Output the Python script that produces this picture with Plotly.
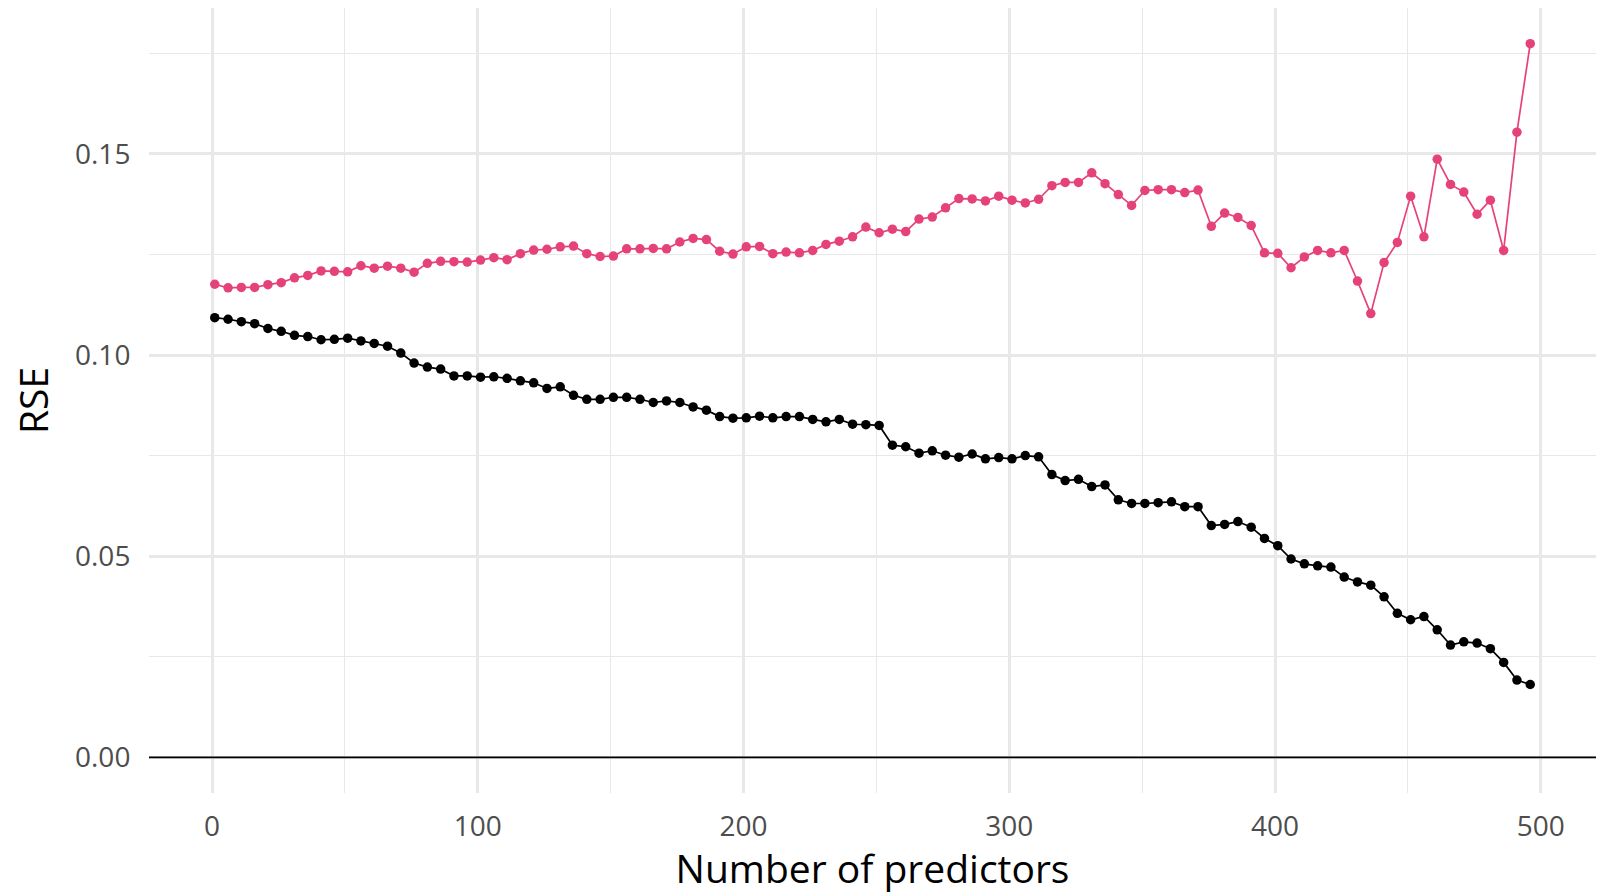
import plotly.graph_objects as go

# Number of predictors used in each fitted model
predictors = [1 + 5 * i for i in range(100)]

# Residual standard error on held-out data
rse_test = [
    0.1176, 0.1167, 0.1168, 0.1168, 0.1175, 0.1180, 0.1192, 0.1198, 0.1209, 0.1208,
    0.1207, 0.1222, 0.1216, 0.1221, 0.1216, 0.1206, 0.1228, 0.1233, 0.1232, 0.1231,
    0.1236, 0.1242, 0.1237, 0.1252, 0.1261, 0.1263, 0.1269, 0.1271, 0.1252, 0.1245,
    0.1246, 0.1264, 0.1264, 0.1265, 0.1264, 0.1281, 0.1290, 0.1287, 0.1258, 0.1251,
    0.1269, 0.1270, 0.1252, 0.1256, 0.1254, 0.1260, 0.1275, 0.1283, 0.1294, 0.1318,
    0.1304, 0.1313, 0.1307, 0.1338, 0.1343, 0.1366, 0.1389, 0.1388, 0.1383, 0.1395,
    0.1385, 0.1378, 0.1387, 0.1421, 0.1429, 0.1429, 0.1453, 0.1426, 0.1399, 0.1372,
    0.1409, 0.1411, 0.1411, 0.1404, 0.1410, 0.1320, 0.1353, 0.1342, 0.1322, 0.1254,
    0.1253, 0.1217, 0.1244, 0.1260, 0.1254, 0.1260, 0.1184, 0.1103, 0.1230, 0.1280,
    0.1395, 0.1294, 0.1487, 0.1424, 0.1405, 0.1350, 0.1385, 0.1260, 0.1554, 0.1774,
]

# Residual standard error on the training data
rse_train = [
    0.1093, 0.1089, 0.1083, 0.1078, 0.1066, 0.1059, 0.1049, 0.1046, 0.1038, 0.1039,
    0.1042, 0.1035, 0.1029, 0.1022, 0.1005, 0.0980, 0.0970, 0.0965, 0.0948, 0.0948,
    0.0945, 0.0946, 0.0942, 0.0936, 0.0931, 0.0917, 0.0921, 0.0900, 0.0890, 0.0890,
    0.0895, 0.0895, 0.0890, 0.0882, 0.0886, 0.0882, 0.0871, 0.0863, 0.0847, 0.0843,
    0.0844, 0.0848, 0.0844, 0.0847, 0.0847, 0.0840, 0.0834, 0.0840, 0.0828, 0.0827,
    0.0825, 0.0776, 0.0772, 0.0756, 0.0762, 0.0751, 0.0746, 0.0754, 0.0742, 0.0745,
    0.0742, 0.0750, 0.0747, 0.0703, 0.0688, 0.0691, 0.0673, 0.0677, 0.0640, 0.0631,
    0.0631, 0.0633, 0.0635, 0.0623, 0.0623, 0.0576, 0.0579, 0.0586, 0.0572, 0.0544,
    0.0526, 0.0493, 0.0481, 0.0476, 0.0473, 0.0448, 0.0436, 0.0428, 0.0399, 0.0358,
    0.0342, 0.0350, 0.0317, 0.0279, 0.0287, 0.0284, 0.0270, 0.0236, 0.0192, 0.0181,
]

x_ticks = [0, 100, 200, 300, 400, 500]
y_ticks = [0.00, 0.05, 0.10, 0.15]
y_tick_text = ["0.00", "0.05", "0.10", "0.15"]

PINK = "#E6427A"
GRID = "#E8E8E8"
FONT = "Open Sans"

fig = go.Figure()

fig.add_trace(go.Scatter(
    x=predictors, y=rse_test, mode="lines+markers",
    line=dict(color=PINK, width=1.7),
    marker=dict(color=PINK, size=9.5),
    showlegend=False,
))
fig.add_trace(go.Scatter(
    x=predictors, y=rse_train, mode="lines+markers",
    line=dict(color="black", width=1.7),
    marker=dict(color="black", size=9.5),
    showlegend=False,
))

# Horizontal reference line at zero
fig.add_hline(y=0, line=dict(color="black", width=1.8), layer="above")

fig.update_layout(
    width=1604, height=894,
    margin=dict(l=149, r=8, t=8, b=101),
    paper_bgcolor="white", plot_bgcolor="white",
    font=dict(family=FONT, color="black"),
)

fig.update_xaxes(
    range=[-23.75, 520.75],
    tickvals=x_ticks,
    ticks="outside", ticklen=8, tickcolor="rgba(0,0,0,0)",
    tickfont=dict(size=28, color="#4D4D4D", family=FONT),
    showgrid=True, gridcolor=GRID, gridwidth=2.6,
    minor=dict(dtick=50, tick0=0, showgrid=True, gridcolor=GRID, gridwidth=1.4),
    zeroline=False, showline=False,
    title=dict(text="Number of predictors", font=dict(size=39, family=FONT, color="black"),
               standoff=12),
)
fig.update_yaxes(
    range=[-0.00887, 0.18627],
    tickvals=y_ticks, ticktext=y_tick_text,
    ticks="outside", ticklen=12, tickcolor="rgba(0,0,0,0)",
    tickfont=dict(size=28, color="#4D4D4D", family=FONT),
    showgrid=True, gridcolor=GRID, gridwidth=2.6,
    minor=dict(dtick=0.025, tick0=0, showgrid=True, gridcolor=GRID, gridwidth=1.4),
    zeroline=False, showline=False,
    title=dict(text="RSE", font=dict(size=39, family=FONT, color="black"), standoff=14),
)

fig.write_html("out.html")
